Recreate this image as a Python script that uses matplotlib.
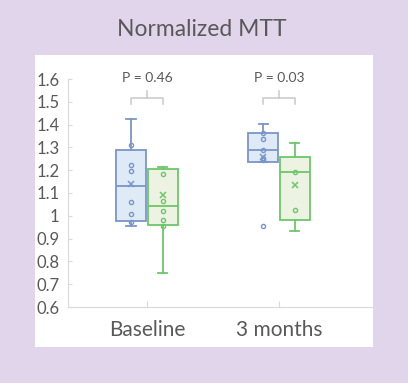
import matplotlib
matplotlib.use("Agg")
import matplotlib.pyplot as plt
from matplotlib.patches import Rectangle
from matplotlib.ticker import FuncFormatter

plt.rcParams['font.family'] = ['Lato', 'DejaVu Sans']

categories = ["Baseline", "3 months"]
series = ["Group A", "Group B"]

# box statistics per series, per category
q1 = {"Group A": [0.979, 1.237], "Group B": [0.961, 0.982]}
medians = {"Group A": [1.129, 1.290], "Group B": [1.042, 1.190]}
q3 = {"Group A": [1.287, 1.362], "Group B": [1.205, 1.260]}
whisker_low = {"Group A": [0.955, 1.237], "Group B": [0.747, 0.933]}
whisker_high = {"Group A": [1.424, 1.403], "Group B": [1.212, 1.320]}
means = {"Group A": [1.140, 1.260], "Group B": [1.093, 1.133]}
points = {
    "Group A": [[1.311, 1.222, 1.198, 1.061, 1.008, 0.971],
                [1.362, 1.337, 1.290, 1.255, 1.246, 0.957]],
    "Group B": [[1.185, 1.067, 1.020, 0.980, 0.957],
                [1.190, 1.027]],
}
p_values = ["P = 0.46", "P = 0.03"]
yticks = [0.6, 0.7, 0.8, 0.9, 1.0, 1.1, 1.2, 1.3, 1.4, 1.5, 1.6]

edge_colors = {"Group A": "#7a96c9", "Group B": "#6cc768"}
fill_colors = {"Group A": "#deebf7", "Group B": "#edf3e3"}
offsets = {"Group A": -0.12, "Group B": 0.12}

fig = plt.figure(figsize=(4.08, 3.83), dpi=100, facecolor="#e1d5ec")
panel = Rectangle((35/408, 1-347/383), 338/408, 292/383,
                  transform=fig.transFigure, facecolor="white",
                  edgecolor="none", zorder=-10)
fig.add_artist(panel)
ax = fig.add_axes([68/408, 1-307/383, 305/408, 228/383])
ax.set_facecolor("none")
ax.set_zorder(1)

for s in series:
    stats = []
    pos = []
    for i, c in enumerate(categories):
        stats.append(dict(med=medians[s][i], q1=q1[s][i], q3=q3[s][i],
                          whislo=whisker_low[s][i], whishi=whisker_high[s][i],
                          fliers=[], label=c))
        pos.append(i + offsets[s])
    ec = edge_colors[s]
    ax.bxp(stats, positions=pos, widths=0.227, patch_artist=True,
           showfliers=False, capwidths=0.07,
           boxprops=dict(facecolor=fill_colors[s], edgecolor=ec, linewidth=1.3),
           medianprops=dict(color=ec, linewidth=1.3),
           whiskerprops=dict(color=ec, linewidth=1.3),
           capprops=dict(color=ec, linewidth=1.3))
    for i in range(len(categories)):
        x = i + offsets[s]
        ax.plot([x] * len(points[s][i]), points[s][i], 'o', ms=3,
                mfc='none', mec=ec, mew=1.0, zorder=5)
        ax.plot([x], [means[s][i]], 'x', ms=5, color=ec, mew=1.1, zorder=5)

for i, p in enumerate(p_values):
    xl = i + offsets["Group A"]
    xr = i + offsets["Group B"]
    bc = "#c9c9c9"
    ax.plot([xl, xl, xr, xr], [1.49, 1.518, 1.518, 1.49], color=bc, lw=1.1,
            clip_on=False)
    ax.plot([i, i], [1.518, 1.547], color=bc, lw=1.1, clip_on=False)
    ax.text(i, 1.604, p, ha='center', va='center', fontsize=10,
            color="#595959", clip_on=False)

ax.set_xlim(-0.598, 1.712)
ax.set_ylim(0.6, 1.6)
ax.set_yticks(yticks)
ax.yaxis.set_major_formatter(FuncFormatter(lambda v, _: f"{v:g}"))
ax.set_xticks(range(len(categories)))
ax.set_xticklabels(categories)
for sp in ["top", "right"]:
    ax.spines[sp].set_visible(False)
for sp in ["left", "bottom"]:
    ax.spines[sp].set_color("#d9d9d9")
ax.tick_params(axis='y', direction='in', length=3, color="#d9d9d9",
               labelsize=12, labelcolor="#595959", pad=6)
ax.tick_params(axis='x', direction='in', length=4, color="#d9d9d9",
               labelsize=15, labelcolor="#595959", pad=9)

fig.text(0.495, 1-30/383, "Normalized MTT", ha='center', va='center',
         fontsize=16.5, color="#595959")

fig.savefig("out.png", dpi=100, facecolor=fig.get_facecolor())
